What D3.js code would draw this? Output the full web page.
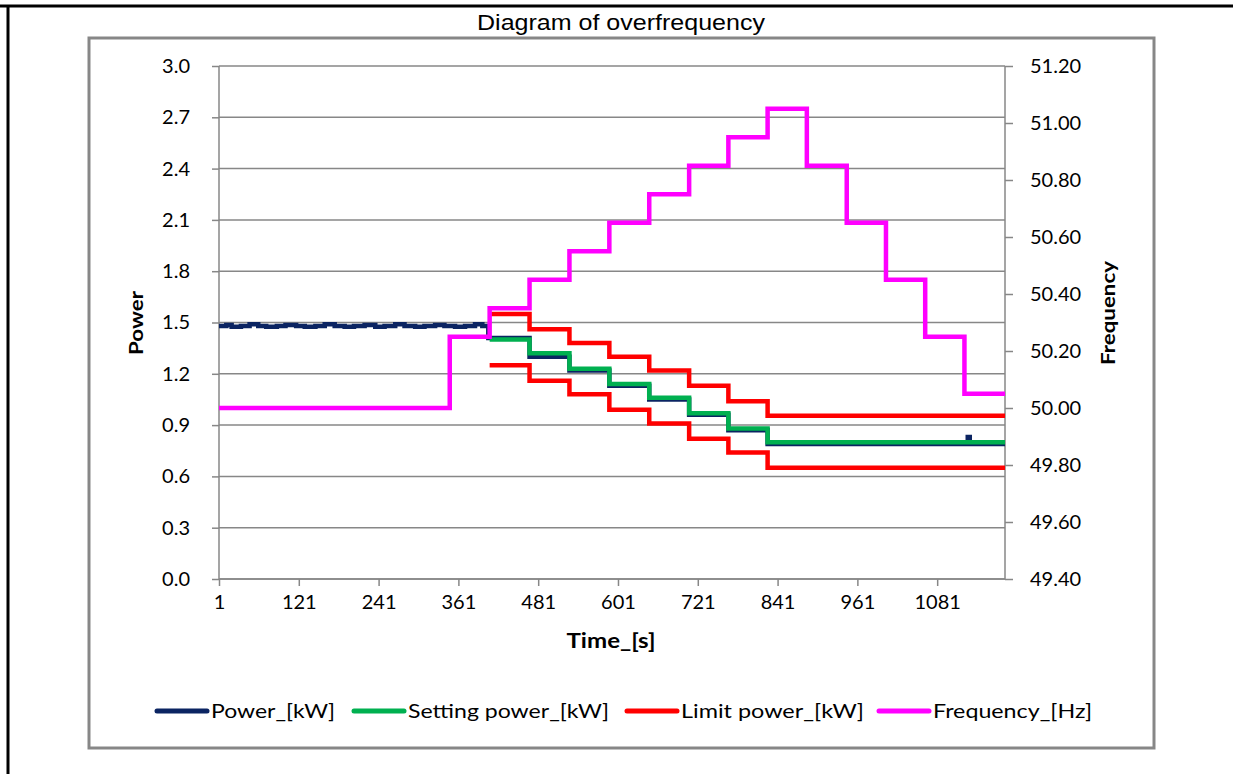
<!DOCTYPE html>
<html>
<head>
<meta charset="utf-8">
<script src="https://cdn.jsdelivr.net/npm/d3@7"></script>
<style>
  html, body { margin: 0; padding: 0; background: #fff; }
  svg { display: block; }
  text { font-family: "Lato", "Open Sans", sans-serif; fill: #000; }
</style>
</head>
<body>
<svg id="chart" width="1233" height="774"></svg>
<script>
// ---------------- DATA ----------------
const timeEnd = 1183;
const timeTicks = [1, 121, 241, 361, 481, 601, 721, 841, 961, 1081];
const powerTicks = [0.0, 0.3, 0.6, 0.9, 1.2, 1.5, 1.8, 2.1, 2.4, 2.7, 3.0];
const powerTickLabels = ["0.0", "0.3", "0.6", "0.9", "1.2", "1.5", "1.8", "2.1", "2.4", "2.7", "3.0"];
const freqTicks = [49.4, 49.6, 49.8, 50.0, 50.2, 50.4, 50.6, 50.8, 51.0, 51.2];
const freqTickLabels = ["49.40", "49.60", "49.80", "50.00", "50.20", "50.40", "50.60", "50.80", "51.00", "51.20"];

// Frequency_[Hz] : step start times and held values
const freqTimes  = [1, 348, 408, 468, 528, 588, 648, 708, 767, 826, 885, 945, 1004, 1063, 1122];
const freqValues = [50.00, 50.25, 50.35, 50.45, 50.55, 50.65, 50.75, 50.85, 50.95, 51.05, 50.85, 50.65, 50.45, 50.25, 50.05];

// Limit power / Setting power : step start times and held values
const stepTimes      = [408, 468, 528, 588, 648, 708, 767, 826];
const limitUpper     = [1.55, 1.46, 1.38, 1.30, 1.22, 1.13, 1.04, 0.955];
const limitLower     = [1.25, 1.16, 1.08, 0.99, 0.91, 0.82, 0.74, 0.65];
const settingPower   = [1.40, 1.32, 1.23, 1.14, 1.06, 0.97, 0.88, 0.80];

// Power_[kW] : measured power, step start times and held values
const powerTimes  = [1, 12, 20, 34, 47, 60, 72, 88, 101, 117, 130, 146, 160, 175, 190, 204, 220, 236, 250, 266, 280, 296, 310, 326, 340, 356, 371, 386, 397, 406, 468, 528, 588, 648, 708, 767, 826, 1127, 1130];
const powerValues = [1.48, 1.485, 1.475, 1.48, 1.49, 1.48, 1.475, 1.48, 1.485, 1.48, 1.475, 1.48, 1.49, 1.48, 1.475, 1.48, 1.485, 1.475, 1.48, 1.49, 1.48, 1.475, 1.48, 1.485, 1.48, 1.475, 1.48, 1.49, 1.48, 1.41, 1.30, 1.22, 1.13, 1.05, 0.96, 0.87, 0.79, 0.83, 0.79];

const seriesNames = ["Power_[kW]", "Setting power_[kW]", "Limit power_[kW]", "Frequency_[Hz]"];
const seriesColors = ["#0b2462", "#00b050", "#ff0000", "#ff00ff"];

// ---------------- LAYOUT ----------------
const svg = d3.select("#chart");
const plot = { left: 219, right: 1005, top: 66, bottom: 579 };
const gridColor = "#878787";

const x = d3.scaleLinear().domain([1, timeEnd]).range([plot.left, plot.right]);
const yP = d3.scaleLinear().domain([0, 3.0]).range([plot.bottom, plot.top]);
const yF = d3.scaleLinear().domain([49.4, 51.2]).range([plot.bottom, plot.top]);

// outer frame
svg.append("line").attr("x1", 0).attr("x2", 1233).attr("y1", 6).attr("y2", 6)
  .attr("stroke", "#000").attr("stroke-width", 3);
svg.append("line").attr("x1", 8).attr("x2", 8).attr("y1", 5).attr("y2", 774)
  .attr("stroke", "#000").attr("stroke-width", 3);
// chart area border
svg.append("rect").attr("x", 89).attr("y", 38).attr("width", 1065).attr("height", 710)
  .attr("fill", "none").attr("stroke", gridColor).attr("stroke-width", 3);

// title
svg.append("text").attr("x", 621).attr("y", 30).attr("text-anchor", "middle")
  .style("font-family", "'Liberation Sans', Arial, sans-serif").style("font-size", "22px")
  .attr("textLength", 288).attr("lengthAdjust", "spacingAndGlyphs")
  .text("Diagram of overfrequency");

// gridlines
svg.append("g").selectAll("line").data(powerTicks).join("line")
  .attr("x1", plot.left).attr("x2", plot.right)
  .attr("y1", d => yP(d)).attr("y2", d => yP(d))
  .attr("stroke", gridColor).attr("stroke-width", 1.5);

// left axis
const gL = svg.append("g").attr("transform", `translate(${plot.left},0)`)
  .call(d3.axisLeft(yP).tickValues(powerTicks).tickSize(7).tickPadding(22)
    .tickFormat((d, i) => powerTickLabels[i]));
// right axis
const gR = svg.append("g").attr("transform", `translate(${plot.right},0)`)
  .call(d3.axisRight(yF).tickValues(freqTicks).tickSize(8).tickPadding(17)
    .tickFormat((d, i) => freqTickLabels[i]));
// bottom axis
const gB = svg.append("g").attr("transform", `translate(0,${plot.bottom})`)
  .call(d3.axisBottom(x).tickValues(timeTicks).tickSize(7).tickPadding(9)
    .tickFormat(d => String(d)));

[gL, gR, gB].forEach(g => {
  g.select(".domain").attr("stroke", gridColor).attr("stroke-width", 1.5);
  g.selectAll(".tick line").attr("stroke", gridColor).attr("stroke-width", 1.5);
  g.selectAll(".tick text").style("font-size", "20px").style("font-family", "'Lato', 'Open Sans', sans-serif").attr("fill", "#111");
});
gR.select(".domain").attr("d", `M0,${plot.bottom}V${plot.top}`);
gL.select(".domain").attr("d", `M0,${plot.bottom}V${plot.top}`);
gB.select(".domain").attr("d", `M${plot.left},0H${plot.right}`);

// axis titles
svg.append("text").attr("transform", "translate(143,323) rotate(-90)")
  .attr("text-anchor", "middle").style("font-weight", "bold").style("font-size", "19px")
  .attr("textLength", 64).attr("lengthAdjust", "spacingAndGlyphs").text("Power");
svg.append("text").attr("transform", "translate(1115,313) rotate(-90)")
  .attr("text-anchor", "middle").style("font-weight", "bold").style("font-size", "19px")
  .attr("textLength", 104).attr("lengthAdjust", "spacingAndGlyphs").text("Frequency");
svg.append("text").attr("x", 611).attr("y", 648)
  .attr("text-anchor", "middle").style("font-weight", "bold").style("font-size", "20px")
  .attr("textLength", 89).attr("lengthAdjust", "spacingAndGlyphs").text("Time_[s]");

// ---------------- SERIES ----------------
function stepPoints(times, values, end) {
  const pts = times.map((t, i) => [t, values[i]]);
  pts.push([end, values[values.length - 1]]);
  return pts;
}
const lineP = d3.line().x(d => x(d[0])).y(d => yP(d[1])).curve(d3.curveStepAfter);
const lineF = d3.line().x(d => x(d[0])).y(d => yF(d[1])).curve(d3.curveStepAfter);

const gS = svg.append("g").attr("fill", "none").attr("stroke-linejoin", "miter");
gS.append("path").attr("d", lineP(stepPoints(powerTimes, powerValues, timeEnd)))
  .attr("stroke", seriesColors[0]).attr("stroke-width", 4.5);
gS.append("path").attr("d", lineP(stepPoints(stepTimes, settingPower, timeEnd)))
  .attr("stroke", seriesColors[1]).attr("stroke-width", 4.5);
gS.append("path").attr("d", lineP(stepPoints(stepTimes, limitUpper, timeEnd)))
  .attr("stroke", seriesColors[2]).attr("stroke-width", 4.5);
gS.append("path").attr("d", lineP(stepPoints(stepTimes, limitLower, timeEnd)))
  .attr("stroke", seriesColors[2]).attr("stroke-width", 4.5);
gS.append("path").attr("d", lineF(stepPoints(freqTimes, freqValues, timeEnd)))
  .attr("stroke", seriesColors[3]).attr("stroke-width", 4.5);

// ---------------- LEGEND ----------------
const legendX = [157, 354, 627, 879];
const legendTextLen = [124, 201, 183, 159];
const legendY = 711;
const gLeg = svg.append("g");
seriesNames.forEach((name, i) => {
  gLeg.append("line").attr("x1", legendX[i]).attr("x2", legendX[i] + 50)
    .attr("y1", legendY).attr("y2", legendY)
    .attr("stroke", seriesColors[i]).attr("stroke-width", 5).attr("stroke-linecap", "round");
  gLeg.append("text").attr("x", legendX[i] + 54).attr("y", legendY + 7)
    .style("font-size", "20px").attr("textLength", legendTextLen[i])
    .attr("lengthAdjust", "spacingAndGlyphs").text(name);
});
</script>
</body>
</html>
